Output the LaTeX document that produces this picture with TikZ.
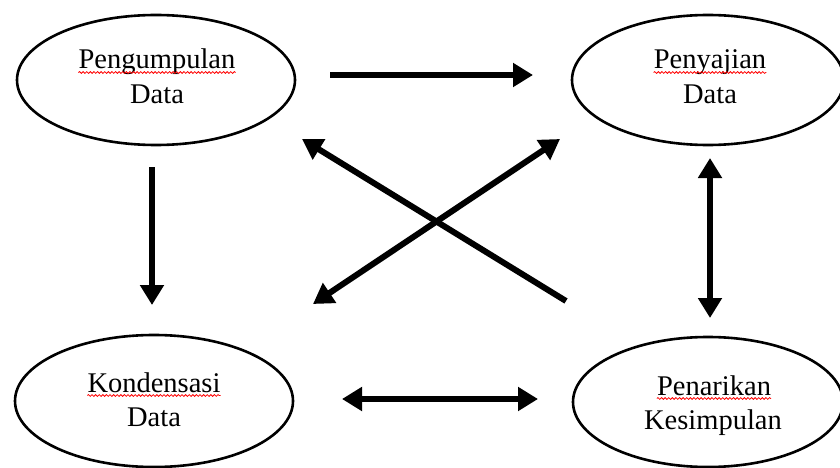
\documentclass[tikz,border=0pt]{standalone}
\usepackage{fontspec}
\setmainfont{Liberation Serif}
\usetikzlibrary{shapes.geometric,arrows.meta,decorations.pathmorphing}
\begin{document}
\begin{tikzpicture}[x=1pt,y=-1pt,
  stage/.style={draw,ellipse,line width=2.6pt,inner sep=0pt},
  word/.style={anchor=base,inner sep=0pt,font=\fontsize{28.5}{34}\selectfont},
  flow/.style={line width=6pt,-{Triangle[length=20pt,width=23pt]}},
  both/.style={line width=6pt,{Triangle[length=20pt,width=23pt]}-{Triangle[length=20pt,width=23pt]}},
  squiggle/.style={red,line width=0.8pt,decorate,
    decoration={snake,amplitude=0.9pt,segment length=3.6pt}}]
\useasboundingbox (0,0) rectangle (840,468);

% the four stages
\node[stage,minimum width=278pt,minimum height=130pt] (pd) at (156,80) {};
\node[stage,minimum width=272pt,minimum height=130pt] (pj) at (708,80) {};
\node[stage,minimum width=278pt,minimum height=132pt] (kd) at (154,401) {};
\node[stage,minimum width=270pt,minimum height=130pt] (pk) at (708,402) {};

% labels
\node[word] (pdA) at (157,69) {Pengumpulan};
\node[word] (pdB) at (157,103) {Data};
\node[word] (pjA) at (710,69) {Penyajian};
\node[word] (pjB) at (710,103) {Data};
\node[word] (kdA) at (154,392) {Kondensasi};
\node[word] (kdB) at (154,426) {Data};
\node[word] (pkA) at (714,395) {Penarikan};
\node[word] (pkB) at (713,429) {Kesimpulan};

% spell-check underlines
\foreach \w in {pdA,pjA,kdA,pkA}
  \draw[squiggle] ([yshift=-3.5pt]\w.base west) -- ([yshift=-3.5pt]\w.base east);

% arrow end points
\coordinate (t1) at (330,75);  \coordinate (t2) at (533,75);
\coordinate (l1) at (152,167); \coordinate (l2) at (152,305);
\coordinate (r1) at (710,158); \coordinate (r2) at (710,318);
\coordinate (b1) at (342,399); \coordinate (b2) at (538,399);
\coordinate (d1) at (566,301); \coordinate (d2) at (302,139);
\coordinate (e1) at (313,304); \coordinate (e2) at (560,139);

% connectors
\draw[flow] (t1) -- (t2);
\draw[flow] (l1) -- (l2);
\draw[both] (r1) -- (r2);
\draw[both] (b1) -- (b2);
\draw[flow] (d1) -- (d2);
\draw[both] (e1) -- (e2);
\end{tikzpicture}
\end{document}
